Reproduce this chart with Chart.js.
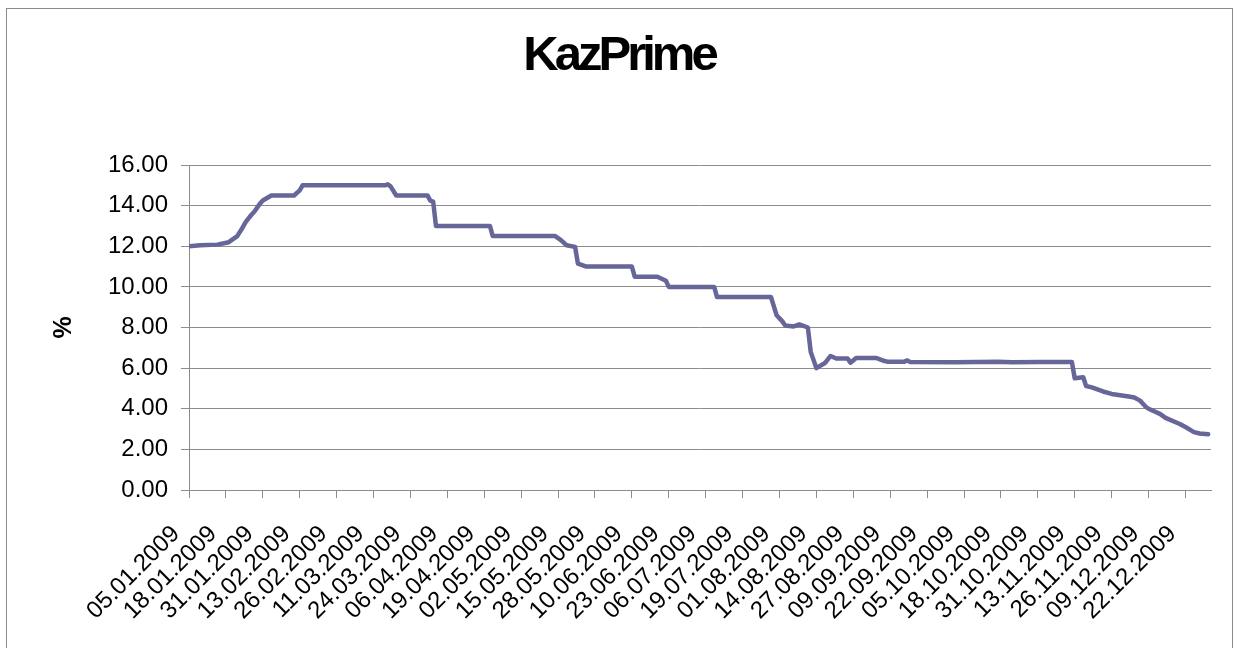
<!DOCTYPE html>
<html>
<head>
<meta charset="utf-8">
<title>KazPrime</title>
<script src="https://cdn.jsdelivr.net/npm/chart.js@4.4.1/dist/chart.umd.min.js"></script>
<style>
    html, body { margin: 0; padding: 0; background: #ffffff; }
    #wrap { position: relative; width: 1238px; height: 648px; }
</style>
</head>
<body>
<div id="wrap">
    <canvas id="chart" width="1238" height="648"></canvas>
</div>
<script>
const chartTitle = 'KazPrime';
const axisTitle = '%';

// x-axis labels, one every 13 days
const tickLabels = [
    '05.01.2009', '18.01.2009', '31.01.2009', '13.02.2009', '26.02.2009', '11.03.2009', '24.03.2009',
    '06.04.2009', '19.04.2009', '02.05.2009', '15.05.2009', '28.05.2009', '10.06.2009', '23.06.2009',
    '06.07.2009', '19.07.2009', '01.08.2009', '14.08.2009', '27.08.2009', '09.09.2009', '22.09.2009',
    '05.10.2009', '18.10.2009', '31.10.2009', '13.11.2009', '26.11.2009', '09.12.2009', '22.12.2009'
];

// turning points of the rate line
const dates = [
    '05.01.2009', '09.01.2009', '15.01.2009', '19.01.2009', '22.01.2009', '24.01.2009', '25.01.2009',
    '27.01.2009', '28.01.2009', '30.01.2009', '31.01.2009', '03.02.2009', '11.02.2009', '13.02.2009',
    '14.02.2009', '15.03.2009', '16.03.2009', '17.03.2009', '19.03.2009', '30.03.2009', '31.03.2009',
    '01.04.2009', '02.04.2009', '21.04.2009', '22.04.2009', '14.05.2009', '16.05.2009', '18.05.2009',
    '21.05.2009', '22.05.2009', '25.05.2009', '10.06.2009', '11.06.2009', '19.06.2009', '22.06.2009',
    '23.06.2009', '09.07.2009', '10.07.2009', '29.07.2009', '31.07.2009', '02.08.2009', '03.08.2009',
    '06.08.2009', '08.08.2009', '11.08.2009', '12.08.2009', '14.08.2009', '17.08.2009', '19.08.2009',
    '21.08.2009', '25.08.2009', '26.08.2009', '28.08.2009', '04.09.2009', '07.09.2009', '08.09.2009',
    '14.09.2009', '15.09.2009', '16.09.2009', '02.10.2009', '17.10.2009', '22.10.2009', '01.11.2009',
    '12.11.2009', '13.11.2009', '16.11.2009', '17.11.2009', '19.11.2009', '23.11.2009', '26.11.2009',
    '02.12.2009', '04.12.2009', '06.12.2009', '08.12.2009', '09.12.2009', '13.12.2009', '15.12.2009',
    '20.12.2009', '22.12.2009', '25.12.2009', '27.12.2009', '30.12.2009'
];
const rates = [
    12.00, 12.05, 12.08, 12.20, 12.50, 12.95, 13.20,
    13.55, 13.70, 14.10, 14.25, 14.50, 14.50, 14.75,
    15.00, 15.00, 15.05, 14.95, 14.50, 14.50, 14.25,
    14.20, 13.00, 13.00, 12.50, 12.50, 12.30, 12.05,
    11.97, 11.15, 11.00, 11.00, 10.50, 10.50, 10.30,
    10.00, 10.00, 9.50, 9.50, 8.60, 8.30, 8.10,
    8.05, 8.15, 8.00, 6.80, 6.00, 6.25, 6.60,
    6.47, 6.47, 6.27, 6.50, 6.50, 6.35, 6.32,
    6.32, 6.38, 6.30, 6.29, 6.31, 6.29, 6.30,
    6.30, 5.50, 5.55, 5.12, 5.05, 4.85, 4.73,
    4.60, 4.55, 4.40, 4.10, 4.00, 3.75, 3.55,
    3.25, 3.10, 2.85, 2.78, 2.74
];

const yTicks = [0, 2, 4, 6, 8, 10, 12, 14, 16];

const fontFamily = '"Liberation Sans", Arial, sans-serif';
const gridColor = '#8c8c8c';

function dayIndex(s) {
    const parts = s.split('.');
    const t = Date.UTC(+parts[2], +parts[1] - 1, +parts[0]);
    return Math.round((t - Date.UTC(2009, 0, 5)) / 86400000);
}

const points = dates.map(function (d, i) {
    return { x: dayIndex(d), y: rates[i] };
});

const frameAndTitle = {
    id: 'frameAndTitle',
    afterDraw(chart) {
        const ctx = chart.ctx;
        ctx.save();
        ctx.strokeStyle = '#8c8c8c';
        ctx.lineWidth = 1;
        ctx.strokeRect(6.5, 8.5, 1226, 700);

        ctx.fillStyle = '#000000';
        ctx.font = 'bold 49px ' + fontFamily;
        ctx.textAlign = 'center';
        ctx.textBaseline = 'alphabetic';
        if ('letterSpacing' in ctx) ctx.letterSpacing = '-4px';
        ctx.fillText(chartTitle, 619, 70);
        ctx.restore();
    }
};

new Chart(document.getElementById('chart'), {
    type: 'line',
    data: {
        datasets: [{
            label: chartTitle,
            data: points,
            borderColor: '#666699',
            backgroundColor: '#666699',
            borderWidth: 4.5,
            pointRadius: 0,
            tension: 0,
            borderJoinStyle: 'round',
            borderCapStyle: 'round',
            fill: false
        }]
    },
    options: {
        responsive: false,
        devicePixelRatio: 1,
        animation: false,
        layout: {
            padding: { left: 0, right: 27, top: 165, bottom: 0 }
        },
        scales: {
            x: {
                type: 'linear',
                min: 0,
                max: 360,
                afterFit: function (scale) {
                    scale.height = 158;
                },
                grid: {
                    drawOnChartArea: false,
                    drawTicks: true,
                    tickLength: 8,
                    color: gridColor
                },
                border: { display: true, color: gridColor },
                ticks: {
                    stepSize: 13,
                    includeBounds: false,
                    autoSkip: false,
                    maxRotation: 45,
                    minRotation: 45,
                    labelOffset: -13,
                    padding: 22,
                    color: '#000000',
                    font: { family: fontFamily, size: 24 },
                    callback: function (value) {
                        const label = tickLabels[Math.round(value / 13)];
                        return label === undefined ? '' : label;
                    }
                }
            },
            y: {
                min: yTicks[0],
                max: yTicks[yTicks.length - 1],
                afterFit: function (scale) {
                    scale.width = 189;
                },
                afterBuildTicks: function (scale) {
                    scale.ticks = yTicks.map(function (v) { return { value: v }; });
                },
                grid: {
                    color: gridColor,
                    tickLength: 8
                },
                border: { display: true, color: gridColor },
                ticks: {
                    padding: 13,
                    color: '#000000',
                    font: { family: fontFamily, size: 24 },
                    callback: function (value) {
                        return value.toFixed(2);
                    }
                },
                title: {
                    display: true,
                    text: axisTitle,
                    color: '#000000',
                    padding: { top: 49, bottom: 0 },
                    font: { family: fontFamily, size: 25, weight: 'bold' }
                }
            }
        },
        plugins: {
            legend: { display: false },
            tooltip: { enabled: false },
            title: { display: false }
        }
    },
    plugins: [frameAndTitle]
});
</script>
</body>
</html>
